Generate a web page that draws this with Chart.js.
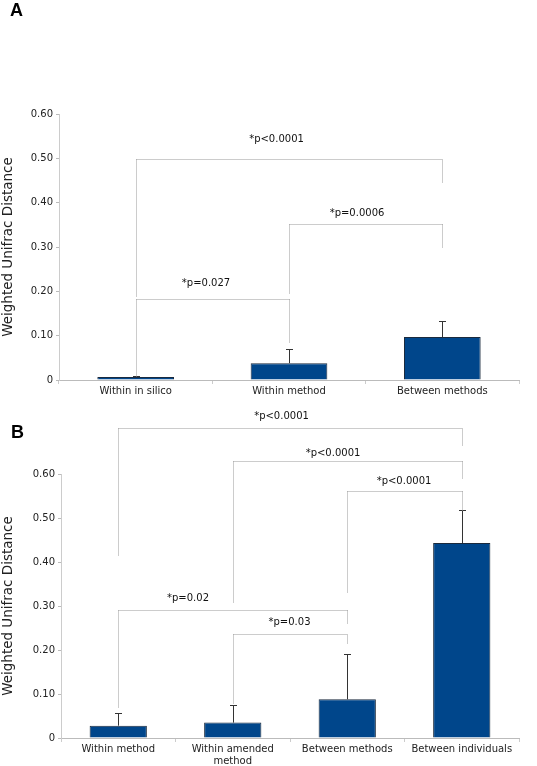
<!DOCTYPE html>
<html>
<head>
<meta charset="utf-8">
<script src="https://cdn.jsdelivr.net/npm/chart.js@4.4.0/dist/chart.umd.min.js"></script>
<style>
  body { margin: 0; background: #fff; }
  #wrap { position: relative; width: 537px; height: 766px; overflow: hidden; }
  canvas { position: absolute; left: 0; }
  .panel { position: absolute; font: bold 18px "Liberation Sans", Arial, sans-serif; line-height: 18px; color: #000; }
</style>
</head>
<body>
<div id="wrap">
  <canvas id="chartA" width="537" height="400" style="top:0"></canvas>
  <canvas id="chartB" width="537" height="366" style="top:400px"></canvas>
  <div class="panel" style="left:10px;top:1px">A</div>
  <div class="panel" style="left:11px;top:423px">B</div>
</div>
<script>
// ---- panel A data
const labelsA = ['Within in silico', 'Within method', 'Between methods'];
const meanA = [0.007, 0.038, 0.097];
const errA = [0.003, 0.031, 0.037];
// significance brackets: category pair, height, where each leg stops, text
const pairsA = [[0, 1], [1, 2], [0, 2]];
const levelA = [0.182, 0.353, 0.499];
const legLeftA = [0.010, 0.194, 0.189];
const legRightA = [0.086, 0.297, 0.444];
const pTextA = ['*p=0.027', '*p=0.0006', '*p<0.0001'];

// ---- panel B data
const labelsB = ['Within method', ['Within amended', 'method'], 'Between methods', 'Between individuals'];
const meanB = [0.028, 0.035, 0.088, 0.443];
const errB = [0.028, 0.041, 0.102, 0.075];
const pairsB = [[1, 2], [0, 2], [2, 3], [1, 3], [0, 3]];
const levelB = [0.237, 0.291, 0.561, 0.629, 0.705];
const legLeftB = [0.080, 0.069, 0.329, 0.309, 0.415];
const legRightB = [0.216, 0.261, 0.518, 0.588, 0.666];
const pTextB = ['*p=0.03', '*p=0.02', '*p<0.0001', '*p<0.0001', '*p<0.0001'];

const FONT = '"DejaVu Sans", Verdana, sans-serif';
const BAR = '#00468b';

// draws the error bars and the dotted brackets
const extras = {
  id: 'extras',
  afterDatasetsDraw(chart, args, o) {
    const ctx = chart.ctx;
    const x = chart.scales.x, y = chart.scales.y;
    const mean = chart.data.datasets[0].data;
    const px = (v) => Math.round(v) + 0.5;
    ctx.save();

    // error bars (upper only)
    ctx.strokeStyle = '#333';
    ctx.lineWidth = 1;
    o.err.forEach((e, i) => {
      const bx = px(x.getPixelForValue(i));
      const base = y.getPixelForValue(mean[i]);
      const top = px(y.getPixelForValue(mean[i] + e));
      ctx.beginPath();
      ctx.moveTo(bx, base);
      ctx.lineTo(bx, top);
      ctx.moveTo(bx - 3.5, top);
      ctx.lineTo(bx + 3.5, top);
      ctx.stroke();
    });

    // brackets, whole-pixel aligned so the dots stay crisp
    ctx.setLineDash([1, 1]);
    ctx.strokeStyle = '#999';
    ctx.fillStyle = '#111';
    ctx.font = '10px ' + FONT;
    ctx.textAlign = 'center';
    ctx.textBaseline = 'middle';
    o.pairs.forEach((p, k) => {
      const xa = px(x.getPixelForValue(p[0]));
      const xb = px(x.getPixelForValue(p[1]));
      const yl = px(y.getPixelForValue(o.level[k]));
      ctx.beginPath();
      ctx.moveTo(xa, yl);
      ctx.lineTo(xa, px(y.getPixelForValue(o.legLeft[k])));
      ctx.stroke();
      ctx.beginPath();
      ctx.moveTo(xa, yl);
      ctx.lineTo(xb, yl);
      ctx.stroke();
      ctx.beginPath();
      ctx.moveTo(xb, yl);
      ctx.lineTo(xb, px(y.getPixelForValue(o.legRight[k])));
      ctx.stroke();
      ctx.fillText(o.text[k], (xa + xb) / 2 + o.dx[k], yl - o.dy[k]);
    });
    ctx.restore();
  }
};

function makeChart(id, labels, mean, yWidth, xHeight, pad, extraOpts) {
  return new Chart(document.getElementById(id), {
    type: 'bar',
    data: {
      labels: labels,
      datasets: [{
        data: mean,
        backgroundColor: BAR,
        borderColor: '#1b2a3d',
        borderWidth: 1,
        barPercentage: 0.5,
        categoryPercentage: 1
      }]
    },
    options: {
      responsive: false,
      animation: false,
      devicePixelRatio: 1,
      layout: { padding: pad },
      plugins: {
        legend: { display: false },
        tooltip: { enabled: false },
        extras: extraOpts
      },
      scales: {
        x: {
          grid: { display: true, drawOnChartArea: false, drawTicks: true, tickLength: 4, color: '#ccc', offset: true },
          border: { color: '#bbb' },
          ticks: { color: '#222', font: { family: FONT, size: 10 }, maxRotation: 0, autoSkip: false, padding: 1 },
          afterFit: (s) => { s.height = xHeight; }
        },
        y: {
          min: 0,
          max: 0.6,
          grid: { display: true, drawOnChartArea: false, drawTicks: true, tickLength: 3, color: '#bbb' },
          border: { color: '#ccc' },
          ticks: {
            stepSize: 0.1,
            color: '#222',
            padding: 3,
            font: { family: FONT, size: 10 },
            callback: (v) => v === 0 ? '0' : v.toFixed(2)
          },
          title: {
            display: true,
            text: 'Weighted Unifrac Distance',
            color: '#222',
            font: { family: FONT, size: 13.5 },
            padding: 0
          },
          afterFit: (s) => { s.width = yWidth; }
        }
      }
    },
    plugins: [extras]
  });
}

makeChart('chartA', labelsA, meanA, 59, 20, { top: 114, right: 18, bottom: 0, left: 0 }, {
  err: errA, pairs: pairsA, level: levelA, legLeft: legLeftA, legRight: legRightA, text: pTextA,
  dx: [-7, -9, -13], dy: [16, 11, 20]
});

makeChart('chartB', labelsB, meanB, 61, 28, { top: 74, right: 18, bottom: 0, left: 0 }, {
  err: errB, pairs: pairsB, level: levelB, legLeft: legLeftB, legRight: legRightB, text: pTextB,
  dx: [-1, -45, -1, -15, -9], dy: [12, 12, 10, 8, 12]
});
</script>
</body>
</html>
